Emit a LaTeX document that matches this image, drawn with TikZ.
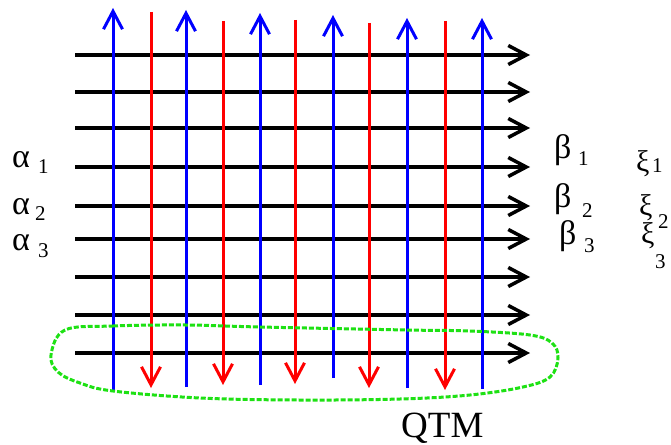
\documentclass[tikz,border=0pt]{standalone}
\usepackage{fontspec}
\setmainfont{Liberation Serif}
\usetikzlibrary{arrows.meta}
\definecolor{lgreen}{RGB}{30,225,20}
\begin{document}
\begin{tikzpicture}[x=1pt,y=-1pt,
  blackarrow/.style={line width=3.5pt,black,-{Straight Barb[length=18pt,width=19pt]}},
  bluearrow/.style={line width=3pt,blue,-{Straight Barb[length=18pt,width=19pt]}},
  redarrow/.style={line width=3pt,red,-{Straight Barb[length=18pt,width=19pt]}},
  greek/.style={inner sep=0pt,anchor=base west,font=\fontsize{34}{36}\selectfont},
  xigreek/.style={inner sep=0pt,anchor=base west,font=\fontsize{30}{32}\selectfont},
  idx/.style={inner sep=0pt,anchor=base west,font=\fontsize{21}{23}\selectfont},
  loop/.style={draw=lgreen,line width=3pt,dash pattern=on 5pt off 2pt}]
\useasboundingbox (0,0) rectangle (671,444);
% horizontal arrows
\foreach \y [count=\i] in {55,92,128,167,206,239,277,315,353}{
  \coordinate (h\i s) at (75,\y);
  \coordinate (h\i e) at (530,\y);
  \draw[blackarrow] (h\i s) -- (h\i e);
}
% blue upward arrows
\foreach \x/\t/\b [count=\i] in {113/8/390,186/10/387,260/13/385,333/15/378,407/18/388,482/18/389}{
  \coordinate (b\i s) at (\x,\b);
  \coordinate (b\i e) at (\x,\t);
  \draw[bluearrow] (b\i s) -- (b\i e);
}
% red downward arrows
\foreach \x/\t/\b [count=\i] in {151/12/388,223/21/385,295/20/384,369/23/388,445/21/390}{
  \coordinate (r\i s) at (\x,\t);
  \coordinate (r\i e) at (\x,\b);
  \draw[redarrow] (r\i s) -- (r\i e);
}
% green dashed loop
\draw[loop] plot[smooth cycle,tension=0.6] coordinates {
  (65,330) (113,326) (186,325) (260,327) (407,330) (470,331) (530,335)
  (552,343) (558,358) (550,377) (523,387) (470,395) (400,399) (300,400)
  (200,398) (113,391) (80,383) (58,372) (51,355)};
% labels
\node[greek] (a1) at (12,167) {α};
\node[idx] (a1i) at (38,173) {1};
\node[greek] (a2) at (12,214) {α};
\node[idx] (a2i) at (35,220) {2};
\node[greek] (a3) at (12,250) {α};
\node[idx] (a3i) at (38,257) {3};
\node[greek] (b1) at (554,158) {β};
\node[idx] (b1i) at (578,165) {1};
\node[greek] (b2) at (554,207) {β};
\node[idx] (b2i) at (582,217) {2};
\node[greek] (b3) at (559,244) {β};
\node[idx] (b3i) at (584,252) {3};
\node[xigreek] (x1) at (636,171) {ξ};
\node[idx] (x1i) at (652,172) {1};
\node[xigreek] (x2) at (639,215) {ξ};
\node[idx] (x2i) at (658,228) {2};
\node[xigreek] (x3) at (641,243) {ξ};
\node[idx] (x3i) at (655,268) {3};
\node[inner sep=0pt,anchor=base west,font=\fontsize{37}{40}\selectfont] (qtm) at (401,437) {QTM};
\end{tikzpicture}
\end{document}
